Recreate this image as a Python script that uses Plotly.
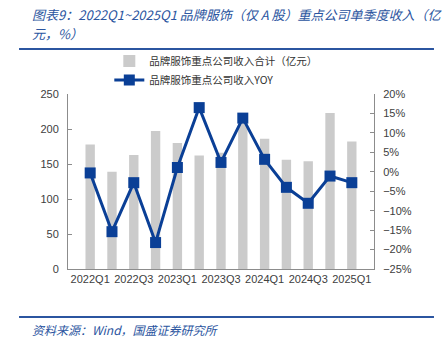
import plotly.graph_objects as go

quarters = ["2022Q1", "2022Q2", "2022Q3", "2022Q4", "2023Q1", "2023Q2", "2023Q3",
            "2023Q4", "2024Q1", "2024Q2", "2024Q3", "2024Q4", "2025Q1"]
revenue = [178, 139, 163, 197, 180, 162, 166, 211, 186, 156, 154, 223, 182]
yoy = [-0.3, -15.4, -2.8, -18.2, 1.1, 16.5, 2.4, 13.8, 3.2, -4.0, -8.1, -1.1, -2.8]
tick_labels = ["2022Q1", "2022Q3", "2023Q1", "2023Q3", "2024Q1", "2024Q3", "2025Q1"]

CJK = "Noto Sans CJK SC"
TICKF = dict(family="Liberation Sans, " + CJK, size=11, color="#404040")
BLUE = "#0a3f96"
TITLEBLUE = "#2b55a0"
TITLEF = dict(family=CJK, size=13, color=TITLEBLUE, style="italic")

fig = go.Figure()
fig.add_trace(go.Bar(x=quarters, y=revenue, name="品牌服饰重点公司收入合计（亿元）",
                     marker=dict(color="#cbcbcb", line=dict(width=0)), yaxis="y"))
fig.add_trace(go.Scatter(x=quarters, y=yoy, name="品牌服饰重点公司收入YOY", yaxis="y2",
                         mode="lines+markers",
                         line=dict(color=BLUE, width=3),
                         marker=dict(symbol="square", size=11, color=BLUE)))

fig.update_layout(
    width=442, height=339,
    margin=dict(l=68, r=68, t=94, b=70),
    plot_bgcolor="white", paper_bgcolor="white",
    bargap=0.57,
    showlegend=True,
    legend=dict(x=0.135, y=1.272, xanchor="left", yanchor="top",
                font=dict(family=CJK, size=10.5, color="#333333"),
                bgcolor="rgba(0,0,0,0)", itemwidth=30, tracegroupgap=0,
                traceorder="normal"),
    xaxis=dict(type="category", tickvals=tick_labels, ticktext=tick_labels,
               showline=True, linecolor="#8c8c8c", linewidth=1,
               ticks="", tickfont=TICKF, showgrid=False),
    yaxis=dict(range=[0, 250], dtick=50, showline=True, linecolor="#8c8c8c",
               ticks="inside", ticklen=4, tickcolor="#8c8c8c",
               showgrid=False, zeroline=False, tickfont=TICKF, ticklabelstandoff=6),
    yaxis2=dict(range=[-25, 20], dtick=5, ticksuffix="%", overlaying="y", side="right",
                showline=True, linecolor="#8c8c8c", ticks="inside", ticklen=4,
                tickcolor="#8c8c8c", showgrid=False, zeroline=False, tickfont=TICKF,
                ticklabelstandoff=6),
    shapes=[
        dict(type="line", xref="paper", yref="paper", x0=-0.160, x1=1.196,
             y0=1.257, y1=1.257, line=dict(color=TITLEBLUE, width=2)),
        dict(type="line", xref="paper", yref="paper", x0=-0.160, x1=1.196,
             y0=-0.274, y1=-0.274, line=dict(color=TITLEBLUE, width=2)),
    ],
    annotations=[
        dict(text="图表9：2022Q1~2025Q1 品牌服饰（仅 A 股）重点公司单季度收入（亿",
             xref="paper", yref="paper", x=-0.124, y=1.452, xanchor="left", yanchor="middle",
             align="left", showarrow=False, font=TITLEF),
        dict(text="元，%）",
             xref="paper", yref="paper", x=-0.124, y=1.343, xanchor="left", yanchor="middle",
             align="left", showarrow=False, font=TITLEF),
        dict(text="资料来源：Wind，国盛证券研究所", xref="paper", yref="paper",
             x=-0.125, y=-0.285, xanchor="left", yanchor="top", showarrow=False,
             font=dict(family=CJK, size=12, color=TITLEBLUE, style="italic")),
    ],
)

fig.write_html("out.html")
